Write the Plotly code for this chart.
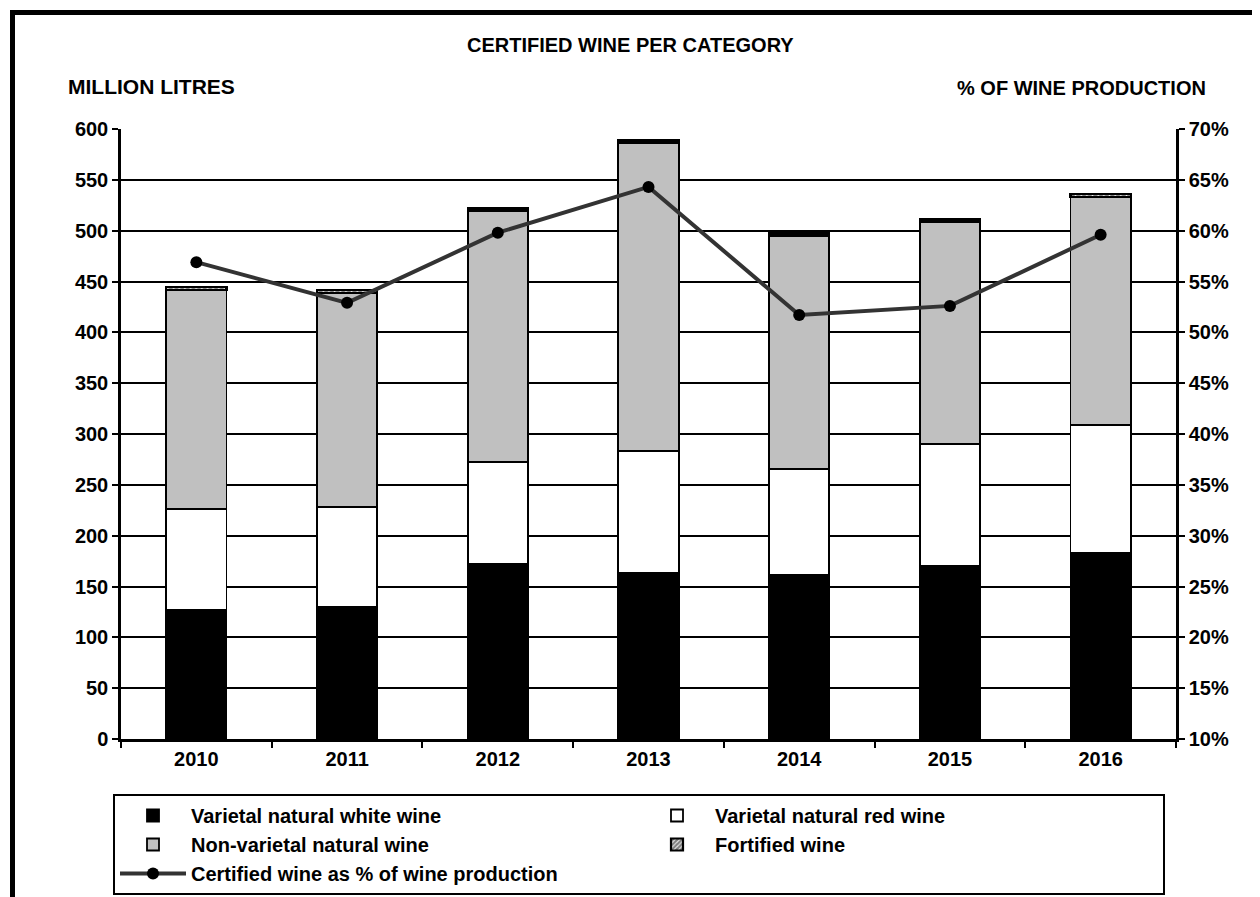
import plotly.graph_objects as go

years = ["2010", "2011", "2012", "2013", "2014", "2015", "2016"]
white_wine = [126.5, 130.4, 172.7, 163.6, 161.0, 170.2, 182.9]
red_wine = [99.7, 97.8, 99.4, 120.0, 104.9, 120.0, 125.6]
non_varietal = [215.8, 210.8, 247.8, 303.2, 228.8, 218.8, 224.9]
fortified = [2.5, 2.4, 2.5, 2.6, 2.5, 2.4, 2.5]
pct_certified = [56.9, 52.9, 59.8, 64.3, 51.7, 52.6, 59.6]

FONT = "Liberation Sans, Arial, sans-serif"
OFF = 8  # page body margin
W, H = 1260 - OFF, 897 - OFF
L, R, T, B = 121 - OFF, 84, 129 - OFF, 158
PW, PH = W - L - R, H - T - B


def px_x(px):
    return (px - OFF - L) / PW


def px_y(py):
    return (H - B - (py - OFF)) / PH


def bfont(size):
    return dict(family=FONT, size=size, color="black", weight="bold")


fig = go.Figure()
outline = dict(color="black", width=1.8)
fig.add_trace(go.Bar(x=years, y=white_wine, name="Varietal natural white wine",
                     marker=dict(color="black", line=outline)))
fig.add_trace(go.Bar(x=years, y=red_wine, name="Varietal natural red wine",
                     marker=dict(color="white", line=outline)))
fig.add_trace(go.Bar(x=years, y=non_varietal, name="Non-varietal natural wine",
                     marker=dict(color="#c0c0c0", line=outline)))
fig.add_trace(go.Bar(x=years, y=fortified, name="Fortified wine",
                     marker=dict(color="white", line=dict(color="black", width=2.2),
                                 pattern=dict(shape="/", fgcolor="black", bgcolor="white",
                                              size=4, solidity=0.75))))
fig.add_trace(go.Scatter(x=years, y=pct_certified, name="Certified wine as % of wine production",
                         yaxis="y2", mode="lines+markers",
                         line=dict(color="#333333", width=4),
                         marker=dict(color="black", size=12)))

tickfont = bfont(20)

fig.update_layout(
    width=W, height=H, autosize=False,
    margin=dict(l=L, r=R, t=T, b=B),
    paper_bgcolor="white", plot_bgcolor="white",
    barmode="stack", bargap=0.6,
    font=bfont(20),
    showlegend=True,
    xaxis=dict(type="category", tickfont=tickfont, showline=True, linecolor="black",
               linewidth=2.5, ticks="outside", tickson="boundaries", ticklen=6,
               tickwidth=2, tickcolor="black", showgrid=False, zeroline=False),
    yaxis=dict(range=[0, 600], dtick=50, tickfont=tickfont, showline=True,
               linecolor="black", linewidth=2.5, ticks="outside", ticklen=6,
               tickwidth=2, tickcolor="black", showgrid=True, gridcolor="black",
               gridwidth=1.8, zeroline=False),
    yaxis2=dict(range=[10, 70], dtick=5, ticksuffix="%", overlaying="y", side="right",
                tickfont=tickfont, showline=True, linecolor="black", linewidth=2.5,
                ticks="outside", ticklen=6, tickwidth=2, tickcolor="black",
                showgrid=False, zeroline=False),
    legend=dict(orientation="h", xref="container", yref="container",
                x=(113 - OFF) / W, y=1 - (794 - OFF) / H, xanchor="left", yanchor="top",
                bordercolor="black", borderwidth=2, bgcolor="white",
                font=bfont(20),
                entrywidth=443, itemwidth=66, traceorder="normal", tracegroupgap=0),
)

fig.add_annotation(text="CERTIFIED WINE PER CATEGORY", xref="paper", yref="paper",
                   x=px_x(630), y=px_y(45), xanchor="center", yanchor="middle",
                   showarrow=False, font=bfont(20))
fig.add_annotation(text="MILLION LITRES", xref="paper", yref="paper",
                   x=px_x(66), y=px_y(87), xanchor="left", yanchor="middle",
                   showarrow=False, font=bfont(21))
fig.add_annotation(text="% OF WINE PRODUCTION", xref="paper", yref="paper",
                   x=px_x(1208), y=px_y(88), xanchor="right", yanchor="middle",
                   showarrow=False, font=bfont(20))

# outer frame (top and left edges)
fig.add_shape(type="line", xref="paper", yref="paper",
              x0=px_x(10), x1=px_x(1265), y0=px_y(12.5), y1=px_y(12.5),
              line=dict(color="black", width=5))
fig.add_shape(type="line", xref="paper", yref="paper",
              x0=px_x(12.5), x1=px_x(12.5), y0=px_y(10), y1=px_y(905),
              line=dict(color="black", width=5))

fig.write_html("out.html")
